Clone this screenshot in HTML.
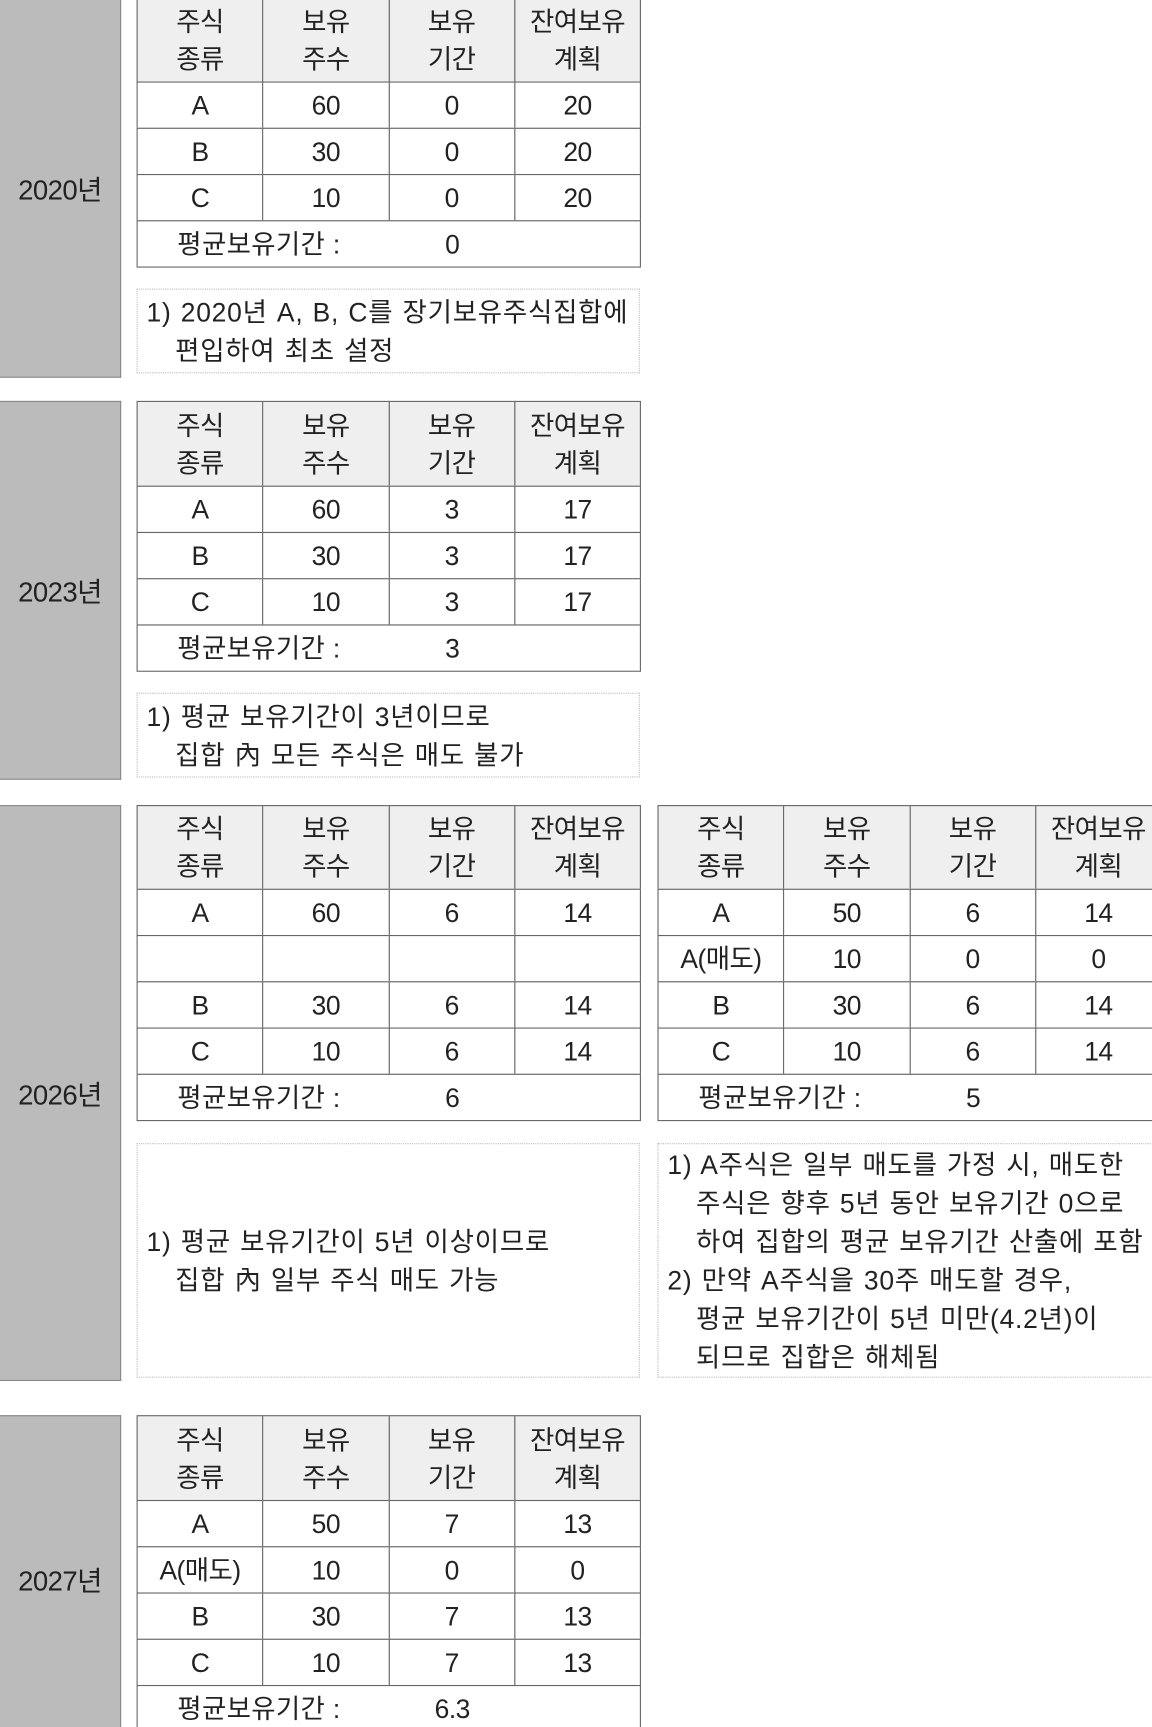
<!DOCTYPE html>
<html><head><meta charset="utf-8">
<style>
html,body{margin:0;padding:0;background:#fff;overflow:hidden;}
body{width:1152px;height:1727px;position:relative;}
#root{position:absolute;left:0;top:0;width:1046px;height:1568px;transform:scale(1.1013);transform-origin:0 0;
 font-family:"Liberation Sans","Noto Sans CJK KR",sans-serif;color:#222;}
.yr{position:absolute;left:-2px;width:108px;background:#bbb;border:1px solid #888;border-left:none;display:flex;align-items:center;justify-content:center;font-size:25px;letter-spacing:-0.5px;}
.cell{position:absolute;box-sizing:border-box;border:1px solid #666;display:flex;align-items:center;justify-content:center;text-align:center;font-size:24px;line-height:34px;letter-spacing:-0.5px;background:#fff;padding-top:3px;}
.hd{background:#efefef;}
.note{position:absolute;box-sizing:border-box;border:1px dotted #bbb;font-size:24px;line-height:35px;padding-left:8px;letter-spacing:0.7px;word-spacing:1px;display:flex;flex-direction:column;justify-content:center;padding-top:3px;}
.ind{padding-left:26px;}
</style></head>
<body>
<div id="root"></div>
<script>
const headers=['주식<br>종류','보유<br>주수','보유<br>기간','잔여보유<br>계획'];
const tables=[
 {x:124,y:-2,hh:76,rows:[['A','60','0','20'],['B','30','0','20'],['C','10','0','20']],avg:'0',name:'table-2020'},
 {x:124,y:364,hh:77,rows:[['A','60','3','17'],['B','30','3','17'],['C','10','3','17']],avg:'3',name:'table-2023'},
 {x:124,y:731,hh:76,rows:[['A','60','6','14'],['','','',''],['B','30','6','14'],['C','10','6','14']],avg:'6',name:'table-2026-hold'},
 {x:597,y:731,hh:76,rows:[['A','50','6','14'],['A(매도)','10','0','0'],['B','30','6','14'],['C','10','6','14']],avg:'5',name:'table-2026-sell'},
 {x:124,y:1285,hh:77,rows:[['A','50','7','13'],['A(매도)','10','0','0'],['B','30','7','13'],['C','10','7','13']],avg:'6.3',name:'table-2027'}
];
const years=[['2020년',-2,341],['2023년',364,706],['2026년',731,1252],['2027년',1285,1580]];
const notes=[
 {x:124,y:262,w:457,h:77,lines:['1) 2020년 A, B, C를 장기보유주식집합에','편입하여 최초 설정'],name:'note-2020'},
 {x:124,y:629,w:457,h:77,lines:['1) 평균 보유기간이 3년이므로','집합 內 모든 주식은 매도 불가'],name:'note-2023'},
 {x:124,y:1038,w:457,h:213,lines:['1) 평균 보유기간이 5년 이상이므로','집합 內 일부 주식 매도 가능'],name:'note-2026-hold'},
 {x:597,y:1038,w:460,h:213,lines:['1) A주식은 일부 매도를 가정 시, 매도한','주식은 향후 5년 동안 보유기간 0으로','하여 집합의 평균 보유기간 산출에 포함','2) 만약 A주식을 30주 매도할 경우,','평균 보유기간이 5년 미만(4.2년)이','되므로 집합은 해체됨'],name:'note-2026-sell'}
];
const root=document.getElementById('root');
const CW=114.25, RH=42;
function mk(cls,x,y,w,h,html){const d=document.createElement('div');d.className=cls;d.style.left=x+'px';d.style.top=y+'px';d.style.width=w+'px';d.style.height=h+'px';d.innerHTML=html;root.appendChild(d);return d;}
years.forEach(function(yv){
 const d=mk('yr',0,yv[1],109,yv[2]-yv[1],yv[0]);
 
 
});
tables.forEach(function(t){
 headers.forEach(function(h,i){
  const c=mk('cell hd',t.x+i*CW,t.y,CW+1,t.hh+1,h);
  
  
 });
 t.rows.forEach(function(r,ri){
  r.forEach(function(v,ci){
   const c=mk('cell',t.x+ci*CW,t.y+t.hh+ri*RH,CW+1,RH+1,v);
   
   
  });
 });
 const ay=t.y+t.hh+t.rows.length*RH;
 const a=mk('cell',t.x,ay,CW*4+1,RH+1,'');
 a.style.justifyContent='flex-start';
 
 
 const l=document.createElement('span');l.textContent='평균보유기간 :';l.style.position='absolute';l.style.left='36px';l.style.letterSpacing='0.3px';
 
 
 a.appendChild(l);
 const v=document.createElement('span');v.textContent=t.avg;v.style.position='absolute';v.style.left=(CW*2)+'px';v.style.width=CW+'px';v.style.textAlign='center';
 
 
 a.appendChild(v);
});
notes.forEach(function(n){
 const d=mk('note',n.x,n.y,n.w,n.h,'');
 
 
 n.lines.forEach(function(s){
  const p=document.createElement('div');p.textContent=s;p.style.whiteSpace='nowrap';
  if(!/^\d\)/.test(s)) p.className='ind';
  
  
  d.appendChild(p);
 });
});
</script>
</body></html>
